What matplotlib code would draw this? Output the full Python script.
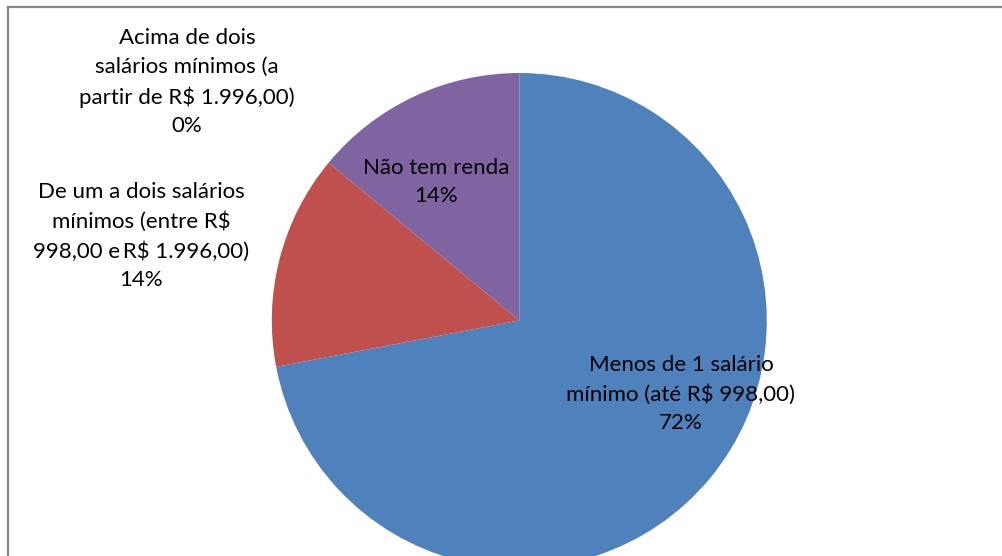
import matplotlib
matplotlib.use("Agg")
import matplotlib.pyplot as plt
from matplotlib.lines import Line2D

categories = [
    "Menos de 1 salário\nmínimo (até R$ 998,00)",
    "De um a dois salários\nmínimos (entre R$\n998,00 e\u2009R$ 1.996,00)",
    "Acima de dois\nsalários mínimos (a\npartir de R$ 1.996,00)",
    "Não tem renda",
]
values = [72, 14, 0, 14]
pct_labels = ["72%", "14%", "0%", "14%"]
colors = ["#4F81BD", "#C0504D", "#9BBB59", "#8064A2"]

W, H = 1003, 556
fig = plt.figure(figsize=(W / 100, H / 100), dpi=100)
ax = fig.add_axes([0, 0, 1, 1])

ax.pie(values, colors=colors, startangle=90, counterclock=False,
       center=(519.3, H - 320.5), radius=247.5, frame=True,
       wedgeprops=dict(linewidth=0))
ax.set_xlim(0, W)
ax.set_ylim(0, H)
ax.set_aspect("equal")
ax.axis("off")

label_pos = [(681, H - 394), (141, H - 236), (187, H - 82), (436, H - 182)]
font = dict(family=["Lato", "DejaVu Sans"], size=16, color="black")
for cat, pct, (x, y) in zip(categories, pct_labels, label_pos):
    ax.text(x, y, cat + "\n" + pct, ha="center", va="center",
            multialignment="center", linespacing=1.55, **font)

# chart frame (top and left edges visible)
fig.add_artist(Line2D([8 / W, 8 / W], [0, 1 - 7 / H], transform=fig.transFigure,
                      color="#878787", lw=1.6))
fig.add_artist(Line2D([8 / W, 1], [1 - 7 / H, 1 - 7 / H], transform=fig.transFigure,
                      color="#878787", lw=1.6))

fig.savefig("out.png", dpi=100)
